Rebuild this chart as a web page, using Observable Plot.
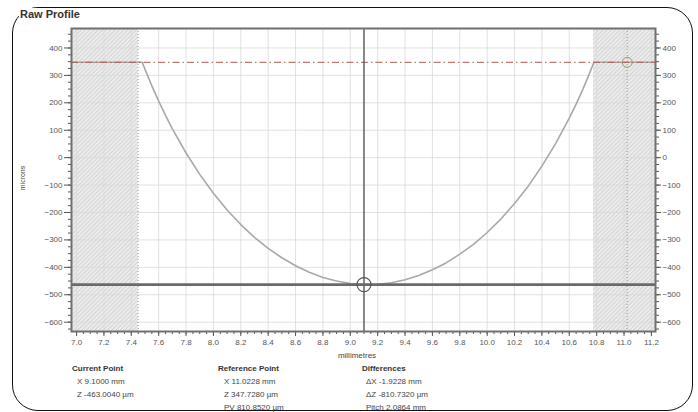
<!DOCTYPE html>
<html><head><meta charset="utf-8">
<script src="https://cdn.jsdelivr.net/npm/d3@7"></script>
<script src="https://cdn.jsdelivr.net/npm/@observablehq/plot@0.6"></script>
<style>
body{margin:0;background:#fff;font-family:"Liberation Sans",Arial,sans-serif;}
#wrap{position:relative;width:698px;height:412px;overflow:hidden;background:#fff}
#border{position:absolute;left:12px;top:7px;width:681px;height:404px;border:1.5px solid #111;border-radius:26px;box-sizing:border-box}
#chart{position:absolute;left:0;top:0}
.t{position:absolute;white-space:nowrap;color:#444;font-size:8px;line-height:10px}
.b{font-weight:bold;color:#333}
#title{position:absolute;left:19px;top:8px;font-weight:bold;font-size:11px;color:#333;background:#fff;padding:0 1px}
#ylab{position:absolute;left:22px;top:178px;font-size:7px;color:#444;transform:translate(-50%,-50%) rotate(-90deg)}
#xlab{position:absolute;left:357px;top:355px;font-size:8px;color:#444;transform:translate(-50%,-50%)}
</style></head>
<body>
<div id="wrap">
  <div id="chart"></div>
  <div id="border"></div>
  <div id="title">Raw Profile</div>
  <div id="ylab">microns</div>
  <div id="xlab">millimetres</div>
  <div id="info"></div>
</div>
<script>
// ---- data ----
const profileX = [6.963, 7.0, 7.1, 7.2, 7.3, 7.4, 7.48, 7.5, 7.55, 7.6, 7.65, 7.7,
  7.8, 7.9, 8.0, 8.1, 8.2, 8.3, 8.4, 8.5, 8.6, 8.7, 8.8, 8.9, 9.0, 9.1,
  9.2, 9.3, 9.4, 9.5, 9.6, 9.7, 9.8, 9.9, 10.0, 10.1, 10.2, 10.3, 10.4, 10.5, 10.6,
  10.65, 10.7, 10.75, 10.78, 10.9, 11.0, 11.1, 11.2, 11.23];
const profileZ = [348, 348, 348, 348, 348, 348, 348, 322, 262, 206, 154, 105,
  17, -61, -130, -191, -244, -291, -331, -365, -394, -418, -437, -450, -459, -463,
  -462, -456, -445, -430, -409, -384, -352, -316, -273, -224, -167, -104, -31, 51, 144,
  195, 250, 310, 348, 348, 348, 348, 348, 348];
const excludedStart = [6.963, 10.777];
const excludedEnd = [7.45, 11.23];
const currentPoint = {x: 9.1, z: -463.004};
const referencePoint = {x: 11.0228, z: 347.728};
const xTickValues = [7.0, 7.2, 7.4, 7.6, 7.8, 8.0, 8.2, 8.4, 8.6, 8.8, 9.0, 9.2, 9.4, 9.6, 9.8, 10.0, 10.2, 10.4, 10.6, 10.8, 11.0, 11.2];
const yTickValues = [-600, -500, -400, -300, -200, -100, 0, 100, 200, 300, 400];
const xDomain = [6.963, 11.23];
const yDomain = [-634, 471];
const infoCurrent = ["X 9.1000 mm", "Z -463.0040 µm"];
const infoReference = ["X 11.0228 mm", "Z 347.7280 µm", "PV 810.8520 µm"];
const infoDiff = ["ΔX -1.9228 mm", "ΔZ -810.7320 µm", "Pitch 2.0864 mm"];

const profile = profileX.map((x, i) => ({x, z: profileZ[i]}));
const excluded = excludedStart.map((s, i) => ({x1: s, x2: excludedEnd[i]}));
const xMinor = d3.range(0, 85).map(i => +(7 + i * 0.05).toFixed(2));
const yMinor = d3.range(-625, 471, 25);
const noLabel = () => "";

const plot = Plot.plot({
  width: 698, height: 365,
  marginTop: 28, marginLeft: 71, marginRight: 43, marginBottom: 34,
  style: {fontSize: "8px", fontFamily: "Liberation Sans, Arial, sans-serif", color: "#555", background: "transparent"},
  x: {domain: xDomain, label: null},
  y: {domain: yDomain, label: null},
  marks: [
    Plot.rect(excluded, {x1: "x1", x2: "x2", y1: yDomain[0], y2: yDomain[1], fill: "#ececec"}),
    Plot.rect(excluded, {x1: "x1", x2: "x2", y1: yDomain[0], y2: yDomain[1], fill: "url(#hatch)"}),
    Plot.gridX(xTickValues, {stroke: "#d9d9d9", strokeOpacity: 1, strokeWidth: 0.8}),
    Plot.gridY(yTickValues, {stroke: "#d9d9d9", strokeOpacity: 1, strokeWidth: 0.8}),
    Plot.ruleX([excludedEnd[0], referencePoint.x], {stroke: "#999", strokeDasharray: "1,2", strokeWidth: 1}),
    Plot.line(profile, {x: "x", y: "z", stroke: "#a8a8a8", strokeWidth: 1.6}),
    Plot.ruleY([referencePoint.z], {stroke: "#b0584c", strokeDasharray: "7,3,1.5,3", strokeWidth: 1}),
    Plot.ruleX([currentPoint.x], {stroke: "#555", strokeWidth: 1.4}),
    Plot.ruleY([currentPoint.z], {stroke: "#6a6a6a", strokeWidth: 2.6}),
    Plot.dot([currentPoint], {x: "x", y: "z", r: 7, stroke: "#555", strokeWidth: 1.2, fill: "none"}),
    Plot.dot([referencePoint], {x: "x", y: "z", r: 5, stroke: "#a09a78", strokeWidth: 1, fill: "none"}),
    Plot.axisX(xMinor, {tickSize: 3, tickFormat: noLabel, stroke: "#555"}),
    Plot.axisX(xTickValues, {tickSize: 5, tickPadding: 3, tickFormat: d => d.toFixed(1), stroke: "#555", fill: "#555"}),
    Plot.axisY(yMinor, {anchor: "left", tickSize: 3, tickFormat: noLabel, stroke: "#555"}),
    Plot.axisY(yTickValues, {anchor: "left", tickSize: 7, tickPadding: 2, stroke: "#555", fill: "#555"}),
    Plot.axisY(yMinor, {anchor: "right", tickSize: 3, tickFormat: noLabel, stroke: "#555"}),
    Plot.axisY(yTickValues, {anchor: "right", tickSize: 5, tickPadding: 2, stroke: "#555", fill: "#555"}),
    Plot.frame({stroke: "#707070", strokeWidth: 2})
  ]
});
// hatch pattern definition
const svg = d3.select(plot);
const defs = svg.insert("defs", ":first-child");
const pat = defs.append("pattern").attr("id", "hatch").attr("patternUnits", "userSpaceOnUse")
  .attr("width", 3).attr("height", 3).attr("patternTransform", "rotate(45)");
pat.append("line").attr("x1", 0).attr("y1", 0).attr("x2", 0).attr("y2", 3)
  .attr("stroke", "#b5b5b5").attr("stroke-width", 0.9);
// drop empty minor-tick label nodes
svg.selectAll("text").filter(function() { return this.textContent === ""; }).remove();
document.getElementById("chart").appendChild(plot);

// info blocks
const info = document.getElementById("info");
function block(left, top, head, lines, indent) {
  const h = document.createElement("div");
  h.className = "t b"; h.style.left = left + "px"; h.style.top = top + "px"; h.textContent = head;
  info.appendChild(h);
  lines.forEach((s, i) => {
    const d = document.createElement("div");
    d.className = "t"; d.style.left = (left + indent) + "px"; d.style.top = (top + 13 * (i + 1)) + "px";
    d.textContent = s; info.appendChild(d);
  });
}
block(72, 364, "Current Point", infoCurrent, 5);
block(218, 364, "Reference Point", infoReference, 6);
block(362, 364, "Differences", infoDiff, 4);
</script>
</body></html>
